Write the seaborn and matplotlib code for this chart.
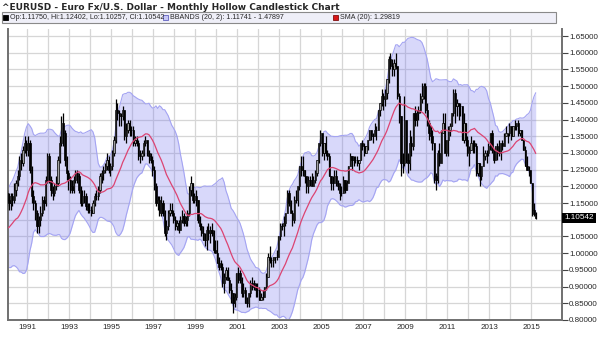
import numpy as np
import pandas as pd
import matplotlib
matplotlib.use("Agg")
import matplotlib.pyplot as plt
import matplotlib.transforms as mtransforms
from matplotlib.patches import Rectangle
import seaborn as sns

# monthly EUR/USD, Jan 1990 .. Mar 2015 (one line per year)
close = [
    1.16, 1.15, 1.17, 1.16, 1.19, 1.21, 1.23, 1.28, 1.27, 1.31, 1.33, 1.31,
    1.33, 1.25, 1.17, 1.15, 1.12, 1.08, 1.10, 1.12, 1.16, 1.15, 1.22, 1.29,
    1.22, 1.19, 1.18, 1.20, 1.21, 1.28, 1.33, 1.39, 1.36, 1.28, 1.24, 1.22,
    1.20, 1.19, 1.22, 1.24, 1.23, 1.19, 1.15, 1.17, 1.17, 1.14, 1.13, 1.13,
    1.12, 1.15, 1.17, 1.17, 1.19, 1.23, 1.24, 1.25, 1.26, 1.28, 1.25, 1.26,
    1.30, 1.34, 1.43, 1.42, 1.41, 1.41, 1.43, 1.35, 1.37, 1.39, 1.37, 1.37,
    1.33, 1.34, 1.33, 1.29, 1.29, 1.30, 1.33, 1.34, 1.30, 1.29, 1.28, 1.25,
    1.20, 1.15, 1.16, 1.12, 1.15, 1.12, 1.06, 1.08, 1.12, 1.13, 1.12, 1.10,
    1.08, 1.09, 1.07, 1.10, 1.11, 1.09, 1.10, 1.12, 1.19, 1.21, 1.16, 1.17,
    1.16, 1.10, 1.08, 1.06, 1.04, 1.04, 1.07, 1.06, 1.07, 1.06, 1.01, 1.00,
    0.97, 0.96, 0.96, 0.91, 0.93, 0.95, 0.92, 0.89, 0.88, 0.85, 0.87, 0.94,
    0.94, 0.92, 0.88, 0.89, 0.85, 0.85, 0.88, 0.91, 0.91, 0.90, 0.89, 0.89,
    0.86, 0.87, 0.87, 0.90, 0.93, 0.99, 0.98, 0.98, 0.99, 0.99, 0.99, 1.05,
    1.08, 1.08, 1.09, 1.12, 1.18, 1.15, 1.12, 1.10, 1.16, 1.16, 1.20, 1.26,
    1.25, 1.25, 1.23, 1.20, 1.22, 1.22, 1.20, 1.22, 1.24, 1.28, 1.33, 1.36,
    1.30, 1.33, 1.30, 1.29, 1.23, 1.21, 1.21, 1.23, 1.21, 1.20, 1.18, 1.18,
    1.22, 1.19, 1.21, 1.26, 1.29, 1.28, 1.28, 1.28, 1.27, 1.28, 1.33, 1.32,
    1.30, 1.32, 1.34, 1.37, 1.35, 1.35, 1.37, 1.37, 1.43, 1.45, 1.47, 1.46,
    1.48, 1.52, 1.58, 1.56, 1.55, 1.57, 1.56, 1.47, 1.41, 1.27, 1.27, 1.40,
    1.28, 1.27, 1.33, 1.32, 1.42, 1.40, 1.42, 1.43, 1.46, 1.47, 1.50, 1.43,
    1.39, 1.36, 1.35, 1.33, 1.23, 1.22, 1.30, 1.27, 1.36, 1.39, 1.30, 1.34,
    1.37, 1.38, 1.42, 1.48, 1.44, 1.45, 1.44, 1.44, 1.34, 1.39, 1.34, 1.30,
    1.31, 1.33, 1.33, 1.32, 1.24, 1.27, 1.23, 1.26, 1.29, 1.30, 1.30, 1.32,
    1.36, 1.31, 1.28, 1.32, 1.30, 1.30, 1.33, 1.32, 1.35, 1.36, 1.36, 1.38,
    1.35, 1.38, 1.38, 1.39, 1.36, 1.37, 1.34, 1.31, 1.26, 1.25, 1.25, 1.21,
    1.13, 1.1175, 1.10542,
]
high = [
    1.19, 1.18, 1.18, 1.18, 1.21, 1.22, 1.25, 1.29, 1.30, 1.32, 1.35, 1.34,
    1.35, 1.34, 1.26, 1.19, 1.16, 1.13, 1.11, 1.14, 1.17, 1.17, 1.23, 1.30,
    1.30, 1.23, 1.20, 1.21, 1.23, 1.29, 1.35, 1.41, 1.42, 1.37, 1.29, 1.25,
    1.23, 1.22, 1.23, 1.25, 1.25, 1.24, 1.20, 1.19, 1.19, 1.18, 1.15, 1.15,
    1.14, 1.16, 1.18, 1.19, 1.20, 1.24, 1.25, 1.26, 1.27, 1.30, 1.29, 1.27,
    1.31, 1.35, 1.46, 1.45, 1.43, 1.42, 1.44, 1.43, 1.39, 1.40, 1.40, 1.38,
    1.38, 1.35, 1.35, 1.34, 1.31, 1.31, 1.34, 1.35, 1.34, 1.31, 1.30, 1.29,
    1.26, 1.21, 1.17, 1.17, 1.17, 1.16, 1.13, 1.10, 1.13, 1.15, 1.15, 1.13,
    1.11, 1.10, 1.10, 1.11, 1.13, 1.12, 1.11, 1.13, 1.20, 1.23, 1.21, 1.18,
    1.19, 1.16, 1.11, 1.09, 1.08, 1.06, 1.08, 1.09, 1.08, 1.09, 1.07, 1.04,
    1.04, 0.99, 0.98, 0.97, 0.94, 0.96, 0.96, 0.93, 0.91, 0.88, 0.88, 0.94,
    0.96, 0.95, 0.93, 0.91, 0.90, 0.87, 0.88, 0.92, 0.93, 0.92, 0.91, 0.91,
    0.90, 0.88, 0.89, 0.90, 0.94, 1.00, 1.02, 0.99, 0.99, 0.99, 1.01, 1.05,
    1.09, 1.09, 1.11, 1.12, 1.19, 1.19, 1.16, 1.13, 1.17, 1.19, 1.20, 1.26,
    1.29, 1.29, 1.25, 1.23, 1.23, 1.23, 1.24, 1.23, 1.25, 1.28, 1.33, 1.37,
    1.36, 1.33, 1.35, 1.31, 1.30, 1.23, 1.23, 1.25, 1.25, 1.22, 1.21, 1.20,
    1.23, 1.22, 1.22, 1.26, 1.30, 1.29, 1.29, 1.29, 1.29, 1.28, 1.33, 1.34,
    1.33, 1.32, 1.34, 1.37, 1.37, 1.36, 1.39, 1.38, 1.43, 1.45, 1.49, 1.48,
    1.49, 1.52, 1.59, 1.60, 1.58, 1.58, 1.60, 1.56, 1.48, 1.41, 1.30, 1.47,
    1.40, 1.30, 1.37, 1.35, 1.42, 1.44, 1.43, 1.44, 1.48, 1.51, 1.51, 1.51,
    1.45, 1.40, 1.38, 1.37, 1.33, 1.24, 1.31, 1.33, 1.37, 1.42, 1.42, 1.34,
    1.38, 1.39, 1.42, 1.49, 1.49, 1.46, 1.45, 1.45, 1.44, 1.42, 1.39, 1.35,
    1.32, 1.35, 1.34, 1.34, 1.33, 1.27, 1.27, 1.26, 1.32, 1.31, 1.31, 1.33,
    1.36, 1.37, 1.31, 1.32, 1.33, 1.34, 1.33, 1.34, 1.36, 1.38, 1.36, 1.39,
    1.38, 1.38, 1.40, 1.39, 1.40, 1.37, 1.37, 1.34, 1.32, 1.29, 1.26, 1.25,
    1.21, 1.15, 1.12402,
]
low = [
    1.14, 1.13, 1.13, 1.14, 1.15, 1.17, 1.20, 1.22, 1.25, 1.26, 1.30, 1.29,
    1.29, 1.24, 1.15, 1.13, 1.10, 1.06, 1.06, 1.08, 1.11, 1.13, 1.14, 1.21,
    1.21, 1.17, 1.16, 1.17, 1.19, 1.20, 1.27, 1.32, 1.32, 1.26, 1.22, 1.19,
    1.18, 1.18, 1.18, 1.21, 1.21, 1.18, 1.14, 1.14, 1.15, 1.13, 1.12, 1.12,
    1.11, 1.12, 1.14, 1.16, 1.16, 1.18, 1.21, 1.22, 1.24, 1.25, 1.24, 1.23,
    1.25, 1.29, 1.33, 1.40, 1.38, 1.38, 1.40, 1.34, 1.33, 1.36, 1.35, 1.35,
    1.32, 1.32, 1.32, 1.28, 1.27, 1.28, 1.29, 1.32, 1.29, 1.27, 1.27, 1.23,
    1.19, 1.14, 1.13, 1.11, 1.11, 1.11, 1.05, 1.04, 1.07, 1.11, 1.11, 1.09,
    1.07, 1.07, 1.06, 1.07, 1.09, 1.08, 1.08, 1.08, 1.11, 1.17, 1.15, 1.15,
    1.14, 1.09, 1.07, 1.05, 1.04, 1.02, 1.01, 1.04, 1.03, 1.05, 1.00, 1.00,
    0.97, 0.95, 0.95, 0.90, 0.88, 0.92, 0.92, 0.88, 0.85, 0.82, 0.84, 0.86,
    0.91, 0.91, 0.87, 0.87, 0.85, 0.84, 0.84, 0.87, 0.89, 0.89, 0.87, 0.87,
    0.86, 0.86, 0.86, 0.87, 0.89, 0.93, 0.97, 0.96, 0.96, 0.97, 0.98, 0.99,
    1.04, 1.07, 1.05, 1.08, 1.12, 1.14, 1.12, 1.08, 1.09, 1.15, 1.14, 1.19,
    1.23, 1.23, 1.21, 1.18, 1.18, 1.20, 1.20, 1.20, 1.21, 1.23, 1.27, 1.32,
    1.29, 1.28, 1.29, 1.28, 1.23, 1.19, 1.19, 1.21, 1.20, 1.19, 1.16, 1.17,
    1.18, 1.18, 1.19, 1.21, 1.26, 1.25, 1.26, 1.27, 1.26, 1.25, 1.28, 1.31,
    1.29, 1.30, 1.31, 1.34, 1.34, 1.33, 1.35, 1.34, 1.37, 1.41, 1.44, 1.43,
    1.44, 1.46, 1.51, 1.55, 1.53, 1.53, 1.55, 1.46, 1.39, 1.23, 1.24, 1.26,
    1.27, 1.24, 1.25, 1.29, 1.31, 1.38, 1.38, 1.40, 1.42, 1.45, 1.46, 1.42,
    1.38, 1.34, 1.33, 1.31, 1.21, 1.19, 1.21, 1.26, 1.27, 1.36, 1.30, 1.29,
    1.29, 1.35, 1.38, 1.41, 1.39, 1.41, 1.40, 1.41, 1.34, 1.33, 1.32, 1.29,
    1.26, 1.31, 1.30, 1.30, 1.23, 1.23, 1.20, 1.22, 1.26, 1.28, 1.27, 1.29,
    1.31, 1.30, 1.27, 1.28, 1.28, 1.29, 1.28, 1.31, 1.32, 1.35, 1.33, 1.35,
    1.34, 1.35, 1.37, 1.37, 1.35, 1.35, 1.34, 1.31, 1.26, 1.25, 1.23, 1.21,
    1.11, 1.11, 1.10257,
]
# closes Jun 1988 .. Dec 1989, only feed the 20-month indicators
pre_close = [1.12, 1.05, 1.03, 1.05, 1.10, 1.16, 1.12, 1.06, 1.08, 1.05,
             1.04, 0.97, 0.98, 1.03, 1.00, 1.08, 1.11, 1.14, 1.18]

title = "^EURUSD - Euro Fx/U.S. Dollar - Monthly Hollow Candlestick Chart"
legend_ohlc = "Op:1.11750, Hi:1.12402, Lo:1.10257, Cl:1.10542"
legend_bb = "BBANDS (20, 2): 1.11741 - 1.47897"
legend_sma = "SMA (20): 1.29819"
last_label = "1.10542"

sns.set_style("white")
plt.rcParams['font.family'] = ['Liberation Sans', 'DejaVu Sans']

# indicators
all_close = pd.Series(pre_close + close)
sma = all_close.rolling(20).mean()
sd = all_close.rolling(20).std(ddof=0)
n0 = len(pre_close)
df = pd.DataFrame({
    'close': close, 'high': high, 'low': low,
    'open': all_close.shift(1).iloc[n0:].values,
    'sma': sma.iloc[n0:].values,
    'upper': (sma + 2 * sd).iloc[n0:].values,
    'lower': (sma - 2 * sd).iloc[n0:].values,
})
dates = pd.date_range('1990-01-01', periods=len(df), freq='MS')
df['x'] = dates.year + (dates.month - 0.5) / 12

W, H = 605, 355
fig = plt.figure(figsize=(W / 100, H / 100), dpi=100)
ax = fig.add_axes([8 / W, 1 - 320 / H, 554 / W, 291 / H])

# bollinger band area
ax.fill_between(df['x'], df['lower'], df['upper'], color='#7070f0',
                alpha=0.27, lw=0, zorder=1)
sns.lineplot(x=df['x'], y=df['upper'], ax=ax, color='#a4a4f2', lw=0.8, zorder=2)
sns.lineplot(x=df['x'], y=df['lower'], ax=ax, color='#a4a4f2', lw=0.8, zorder=2)
sns.lineplot(x=df['x'], y=df['sma'], ax=ax, color='#dc4472', lw=0.9, zorder=5)

# candles
ax.vlines(df['x'], df['low'], df['high'], color='black', lw=0.9, zorder=3)
up = df['close'] >= df['open']
bw = 0.06
ax.bar(df['x'][up], (df['close'] - df['open'])[up], bottom=df['open'][up],
       width=bw, color='#a0a0a0', edgecolor='black', lw=0.5, zorder=4)
ax.bar(df['x'][~up], (df['open'] - df['close'])[~up], bottom=df['close'][~up],
       width=bw, color='black', edgecolor='black', lw=0.5, zorder=4)

ax.set_xlim(1990.08, 2016.46)
ax.set_ylim(0.80, 1.671)

yt = np.round(np.arange(0.80, 1.651, 0.05), 2)
ax.set_yticks(yt)
ax.set_yticklabels(['' if abs(v - 1.10) < 1e-6 else f'{v:.5f}' for v in yt])
ax.yaxis.tick_right()
years = np.arange(1991, 2016)
ax.set_xticks(years[::2])
ax.set_xticklabels([str(y) for y in years[::2]])
ax.set_xticks(years, minor=True)
ax.tick_params(axis='y', labelsize=5.8, length=4, width=0.8, pad=1,
               color='#444444', right=True, left=False)
ax.tick_params(axis='x', which='both', labelsize=5.8, length=0, pad=3)
ax.set_xlabel('')
ax.set_ylabel('')
ax.grid(True, which='both', color='#d6d6d6', lw=0.9, zorder=0)
ax.set_axisbelow(True)
for side in ['left', 'bottom', 'right']:
    ax.spines[side].set_color('#707070')
    ax.spines[side].set_linewidth(1.4)
ax.spines['top'].set_visible(False)

# last price tag on the axis
trans = mtransforms.blended_transform_factory(ax.transAxes, ax.transData)
ax.text(1.004, df['close'].iloc[-1], last_label, transform=trans, color='white',
        fontsize=5.9, ha='left', va='center',
        bbox=dict(fc='black', ec='none', pad=1.3))

# title and legend strip
fig.text(2 / W, 1 - 8 / H, title, fontsize=6.5, fontweight='bold',
         family=['DejaVu Sans'], ha='left', va='center')
fig.add_artist(Rectangle((2 / W, 1 - 23 / H), 554 / W, 11 / H,
                         transform=fig.transFigure, fc='#efeff8',
                         ec='#8a8a8a', lw=0.8))
ly = 1 - 17.5 / H
sq = 5
for x0, fc, ec in [(3, 'black', 'black'), (163, '#c8c8f6', '#6060c0'),
                   (333, '#d81818', '#801010')]:
    fig.add_artist(Rectangle((x0 / W, ly - sq / 2 / H), sq / W, sq / H,
                             transform=fig.transFigure, fc=fc, ec=ec, lw=0.6))
fig.text(9.5 / W, ly, legend_ohlc, fontsize=5.1, ha='left', va='center')
fig.text(170 / W, ly, legend_bb, fontsize=5.1, ha='left', va='center')
fig.text(340 / W, ly, legend_sma, fontsize=5.1, ha='left', va='center')

fig.savefig('out.png', dpi=100)
